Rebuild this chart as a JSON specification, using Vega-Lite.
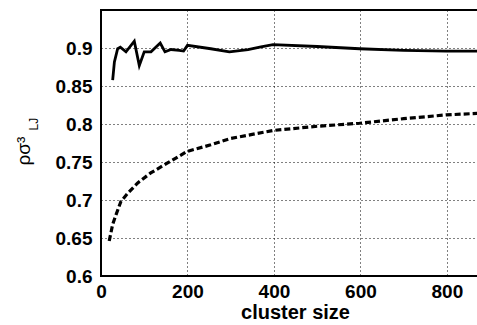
{
  "$schema": "https://vega.github.io/schema/vega-lite/v6.json",
  "width": 377,
  "height": 266,
  "autosize": {"type": "none"},
  "padding": {"left": 101, "top": 10, "right": 0, "bottom": 49},
  "background": "white",
  "config": {
    "view": {"stroke": "black", "strokeWidth": 2},
    "font": "Liberation Sans"
  },
  "datasets": {
    "solid": [
      {"size": 27, "rho": 0.8577},
      {"size": 31, "rho": 0.8817},
      {"size": 38.5, "rho": 0.899},
      {"size": 44.7, "rho": 0.901},
      {"size": 57.8, "rho": 0.895},
      {"size": 77, "rho": 0.909},
      {"size": 88.6, "rho": 0.877},
      {"size": 100, "rho": 0.895},
      {"size": 115.6, "rho": 0.895},
      {"size": 137, "rho": 0.9066},
      {"size": 148, "rho": 0.895},
      {"size": 162, "rho": 0.898},
      {"size": 181, "rho": 0.897},
      {"size": 191, "rho": 0.896},
      {"size": 200, "rho": 0.9035},
      {"size": 254, "rho": 0.899},
      {"size": 297, "rho": 0.895},
      {"size": 340, "rho": 0.898},
      {"size": 370, "rho": 0.9015},
      {"size": 398, "rho": 0.9045},
      {"size": 500, "rho": 0.902},
      {"size": 598, "rho": 0.899},
      {"size": 700, "rho": 0.897},
      {"size": 799, "rho": 0.896},
      {"size": 872, "rho": 0.896}
    ],
    "dashed": [
      {"size": 19, "rho": 0.646},
      {"size": 27, "rho": 0.668},
      {"size": 35, "rho": 0.681},
      {"size": 46, "rho": 0.698},
      {"size": 62, "rho": 0.709},
      {"size": 85, "rho": 0.7225},
      {"size": 115, "rho": 0.7356},
      {"size": 154, "rho": 0.7487},
      {"size": 199, "rho": 0.7639},
      {"size": 254, "rho": 0.7726},
      {"size": 300, "rho": 0.781},
      {"size": 347, "rho": 0.786},
      {"size": 398, "rho": 0.7915},
      {"size": 500, "rho": 0.797},
      {"size": 598, "rho": 0.801},
      {"size": 700, "rho": 0.807},
      {"size": 799, "rho": 0.812},
      {"size": 872, "rho": 0.814}
    ]
  },
  "layer": [
    {
      "data": {"name": "solid"},
      "mark": {"type": "line", "color": "black", "strokeWidth": 2.8, "clip": true},
      "encoding": {
        "x": {
          "field": "size", "type": "quantitative",
          "scale": {"domain": [0, 872], "nice": false, "zero": false},
          "axis": {
            "values": [0, 200, 400, 600, 800],
            "format": "d",
            "domain": false, "ticks": false,
            "grid": true, "gridColor": "black", "gridDash": [1, 3], "gridOpacity": 1, "gridWidth": 1,
            "labelFont": "Liberation Sans", "labelFontSize": 19, "labelFontWeight": "bold", "labelColor": "black",
            "labelPadding": 6, "labelFlush": false,
            "title": "cluster size",
            "titleFont": "Liberation Sans", "titleFontSize": 20, "titleFontWeight": "bold", "titleColor": "black",
            "titlePadding": 1, "titleX": 194
          }
        },
        "y": {
          "field": "rho", "type": "quantitative",
          "scale": {"domain": [0.6, 0.95], "nice": false, "zero": false},
          "axis": {
            "values": [0.6, 0.65, 0.7, 0.75, 0.8, 0.85, 0.9],
            "format": ".2~f",
            "domain": false, "ticks": false,
            "grid": true, "gridColor": "black", "gridDash": [1, 3], "gridOpacity": 1, "gridWidth": 1,
            "labelFont": "Liberation Sans", "labelFontSize": 19, "labelFontWeight": "bold", "labelColor": "black",
            "labelPadding": 9, "labelFlush": false,
            "title": "ρσ³",
            "titleFont": "Liberation Sans", "titleFontSize": 19, "titleFontWeight": "normal", "titleColor": "black",
            "titleAngle": 270, "titleBaseline": "bottom", "titleAlign": "left",
            "titleX": -68, "titleY": 155
          }
        }
      }
    },
    {
      "data": {"name": "dashed"},
      "mark": {"type": "line", "color": "black", "strokeWidth": 3.2, "strokeDash": [6, 3], "clip": true},
      "encoding": {
        "x": {"field": "size", "type": "quantitative"},
        "y": {
          "field": "rho", "type": "quantitative",
          "axis": {
            "orient": "right",
            "labels": false, "ticks": false, "domain": false, "grid": false,
            "title": "LJ",
            "titleFont": "Liberation Sans", "titleFontSize": 12, "titleFontWeight": "normal", "titleColor": "black",
            "titleAngle": 270, "titleBaseline": "bottom", "titleAlign": "left",
            "titleX": -438, "titleY": 120
          }
        }
      }
    }
  ],
  "resolve": {"axis": {"y": "independent"}}
}
